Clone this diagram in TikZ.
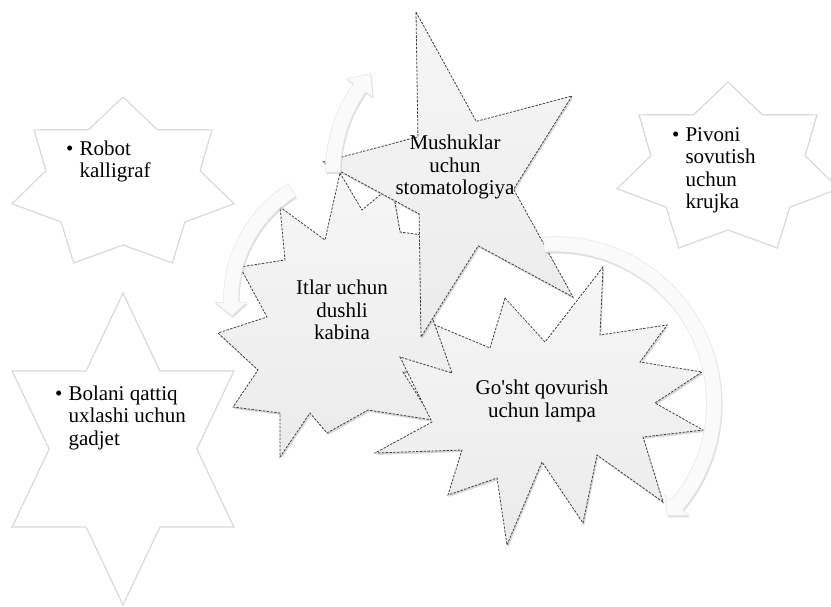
\documentclass[tikz,border=0pt]{standalone}
\usepackage{fontspec}
\setmainfont{Liberation Serif}
\usetikzlibrary{shadows,calc}
\definecolor{Rim}{HTML}{D9D9D9}
\definecolor{Edge}{HTML}{404040}
\definecolor{BurstTop}{HTML}{F6F6F6}
\definecolor{BurstBottom}{HTML}{EBEBEB}
\definecolor{BandFill}{HTML}{FAFAFA}
\definecolor{BandEdge}{HTML}{E6E6E6}
\newcommand\itemfont{\fontsize{21}{22.5}\selectfont}
\newcommand\blist[1]{\begin{tabular}[t]{@{}l@{\hspace{6pt}}l@{}}#1\end{tabular}}
\tikzset{
  outline/.style={draw=Rim,line width=1.2pt,fill=white,line join=miter},
  burst/.style={draw=Edge,line width=0.8pt,dash pattern=on 2.4pt off 1.4pt,top color=BurstTop,bottom color=BurstBottom,
    drop shadow={shadow xshift=1.2pt,shadow yshift=-2pt,opacity=0.3}},
  bandarrow/.style={draw=BandEdge,line width=0.5pt,fill=BandFill,
    drop shadow={shadow xshift=1pt,shadow yshift=-2pt,opacity=0.25}},
  label/.style={font=\itemfont,align=center,inner sep=0pt},
  bullets/.style={font=\itemfont,anchor=base west,inner sep=0pt},
  pics/polystar/.style n args={4}{code={
    \pgfmathtruncatemacro\lastk{2*#1-1}
    \draw[outline] (-90:#3 and #4)
      \foreach[evaluate=\k as \f using {1-(1-#2)*mod(\k,2)}] \k in {1,...,\lastk}
        { -- ({-90+\k*180/#1}:{#3*\f} and {#4*\f}) } -- cycle;
  }},
  pics/bend/.style n args={4}{code={
    \path[bandarrow] ({#2}:{#1+7.5}) arc[start angle=#2,end angle=#3,radius={#1+7.5}]
      -- ({#3}:{#1+16}) -- ({#4}:{#1}) -- ({#3}:{#1-16}) -- ({#3}:{#1-7.5})
      arc[start angle=#3,end angle=#2,radius={#1-7.5}] -- cycle;
  }}
}
\begin{document}
\begin{tikzpicture}[x=1pt,y=-1pt]
  \path[fill=white] (0,0) rectangle (831,606);
  \useasboundingbox (0,0) rectangle (831,606);
  % outline stars
  \pic at (123,184.3) {polystar={7}{0.695}{113.8}{87.3}};
  \pic at (728,169.3) {polystar={7}{0.695}{113.8}{87.3}};
  \pic at (123,449) {polystar={6}{0.577}{128}{156}};
  \node[bullets] (robot) at (66,155) {\blist{\textbullet & Robot\\ & kalligraf}};
  \node[bullets] (pivoni) at (672,141) {\blist{\textbullet & Pivoni\\ & sovutish\\ & uchun\\ & krujka}};
  \node[bullets] (bolani) at (55,400) {\blist{\textbullet & Bolani qattiq\\ & uxlashi uchun\\ & gadjet}};
  % dog cabin burst
  \draw[burst] (340,173) -- (362,210) -- (392,185) -- (400,232) -- (445,238) -- (420,285)
    -- (453,373) -- (403,372) -- (433,420) -- (368,410) -- (327,433) -- (310,413)
    -- (280,457) -- (280,413) -- (233,407) -- (258,370) -- (218,333) -- (267,317)
    -- (240,267) -- (285,260) -- (280,207) -- (325,240) -- cycle;
  % lamp burst
  \draw[burst] (505,298) -- (545,342) -- (603,267) -- (600,335) -- (667,325) -- (640,362)
    -- (702,372) -- (655,403) -- (703,430) -- (643,437) -- (663,502) -- (597,455)
    -- (583,523) -- (542,462) -- (507,545) -- (497,478) -- (448,495) -- (462,450)
    -- (375,453) -- (432,422) -- (400,357) -- (452,373) -- (435,325) -- (490,348) -- cycle;
  % cat star
  \coordinate (m0) at (416,12);
  \coordinate (m1) at (572,96);
  \coordinate (m2) at (573,297);
  \coordinate (m3) at (421,337);
  \coordinate (m4) at (323,162);
  \draw[burst] (m0) -- (intersection of m0--m2 and m1--m4) -- (m1)
    -- (intersection of m0--m2 and m1--m3) -- (m2)
    -- (intersection of m1--m3 and m2--m4) -- (m3)
    -- (intersection of m2--m4 and m3--m0) -- (m4)
    -- (intersection of m3--m0 and m4--m1) -- cycle;
  \node[label] (cat) at (455,167) {Mushuklar\\uchun\\stomatologiya};
  \node[label] (dog) at (342,310) {Itlar uchun\\dushli\\kabina};
  \node[label] (lamp) at (542,401) {Go\textquotesingle sht qovurish\\uchun lampa};
  % cycle arrows
  \pic at (480,172) {bend={147}{-180}{-145}{-138}};
  \pic at (361,300) {bend={130}{-122}{-181}{-187}};
  \pic at (555,403) {bend={159}{-94}{40}{45}};
\end{tikzpicture}
\end{document}
